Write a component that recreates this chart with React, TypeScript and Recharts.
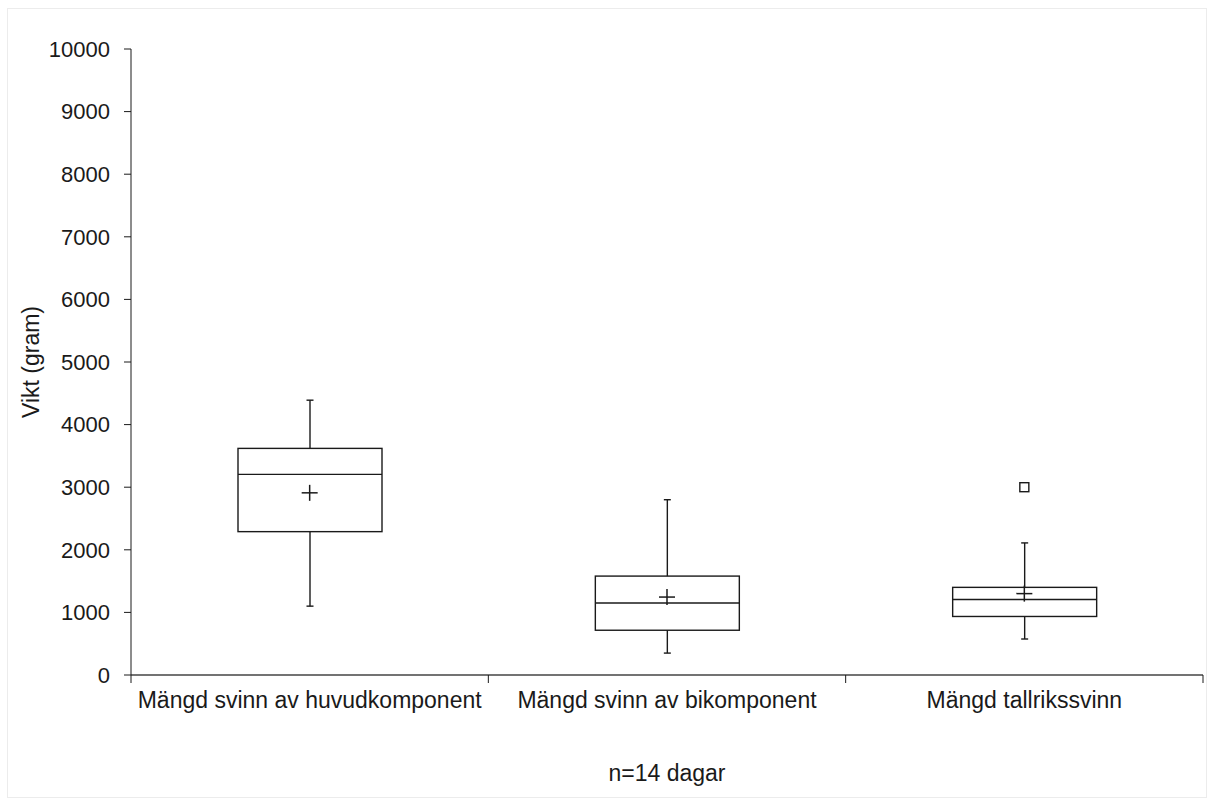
import { Bar, ComposedChart, Scatter, XAxis, YAxis } from "recharts";

const categories = [
  "Mängd svinn av huvudkomponent",
  "Mängd svinn av bikomponent",
  "Mängd tallrikssvinn",
];
const whiskerLow = [1100, 350, 575];
const q1 = [2290, 715, 935];
const median = [3205, 1150, 1205];
const q3 = [3620, 1580, 1400];
const whiskerHigh = [4390, 2800, 2110];
const means = [2910, 1245, 1300];
const outliers: (number | null)[] = [null, null, 3000];
const yTicks = [0, 1000, 2000, 3000, 4000, 5000, 6000, 7000, 8000, 9000, 10000];

const rows = categories.map((name, i) => ({
  name,
  box: [q1[i], q3[i]],
  lo: whiskerLow[i],
  q1: q1[i],
  med: median[i],
  q3: q3[i],
  hi: whiskerHigh[i],
  mean: means[i],
  outlier: outliers[i],
}));

const font = "'Liberation Sans', Arial, sans-serif";
const ink = "#1a1a1a";
const labelMargin = 17;

function BoxShape(props: any) {
  const { x, y, width, height, payload } = props;
  const top = Math.min(y, y + height);
  const h = Math.abs(height);
  const perUnit = h / (payload.q3 - payload.q1);
  const py = (v: number) => top + (payload.q3 - v) * perUnit;
  const cx = x + width / 2;
  const cap = 3.5;
  return (
    <g stroke={ink} strokeWidth={1.4} fill="none">
      <rect x={x} y={top} width={width} height={h} />
      <line x1={x} x2={x + width} y1={py(payload.med)} y2={py(payload.med)} />
      <line x1={cx} x2={cx} y1={top} y2={py(payload.hi)} />
      <line x1={cx - cap} x2={cx + cap} y1={py(payload.hi)} y2={py(payload.hi)} />
      <line x1={cx} x2={cx} y1={top + h} y2={py(payload.lo)} />
      <line x1={cx - cap} x2={cx + cap} y1={py(payload.lo)} y2={py(payload.lo)} />
    </g>
  );
}

function MeanCross(props: any) {
  const { cx, cy } = props;
  return (
    <g stroke={ink} strokeWidth={1.5}>
      <line x1={cx - 8} x2={cx + 8} y1={cy} y2={cy} />
      <line x1={cx} x2={cx} y1={cy - 8} y2={cy + 8} />
    </g>
  );
}

function OutlierSquare(props: any) {
  const { cx, cy, payload } = props;
  if (payload?.outlier == null || !Number.isFinite(cy)) return <g />;
  return <rect x={cx - 4.5} y={cy - 4.5} width={9} height={9} fill="none" stroke={ink} strokeWidth={1.4} />;
}

// category label under the band centre, with tick marks at the band edges
function CategoryTick(props: any) {
  const { x, y, payload, index } = props;
  const half = payload.offset ?? 0;
  const axisY = y - labelMargin;
  return (
    <g>
      {index === 0 && (
        <line x1={x - half} x2={x - half} y1={axisY} y2={axisY + 8} stroke={ink} />
      )}
      <line x1={x + half} x2={x + half} y1={axisY} y2={axisY + 8} stroke={ink} />
      <text x={x} y={y} dy="0.71em" textAnchor="middle" fill={ink} fontSize={23} fontFamily={font}>
        {payload.value}
      </text>
    </g>
  );
}

export default function App() {
  return (
    <div style={{ position: "absolute", left: 0, top: 0, width: 1212, height: 803, background: "#fff" }}>
      <div
        style={{
          position: "absolute",
          left: 7,
          top: 8,
          width: 1198,
          height: 788,
          border: "1px solid #ececec",
        }}
      />
      <ComposedChart
        width={1212}
        height={803}
        data={rows}
        margin={{ top: 49, right: 9, left: 0, bottom: 0 }}
        style={{ position: "absolute", left: 0, top: 0, fontFamily: font }}
      >
        <XAxis
          dataKey="name"
          height={128}
          axisLine={{ stroke: "#444", strokeWidth: 1.6 }}
          tickLine={false}
          tickSize={0}
          tickMargin={labelMargin}
          interval={0}
          tick={<CategoryTick />}
          label={{
            value: "n=14 dagar",
            position: "insideBottom",
            offset: 22,
            style: { fill: ink, fontSize: 23, fontFamily: font },
          }}
        />
        <YAxis
          type="number"
          domain={[0, 10000]}
          ticks={yTicks}
          interval={0}
          width={131}
          tickSize={7}
          tickMargin={14}
          axisLine={{ stroke: ink }}
          tickLine={{ stroke: ink }}
          tick={{ fill: ink, fontSize: 22, fontFamily: font }}
          label={{
            value: "Vikt (gram)",
            angle: -90,
            position: "insideLeft",
            offset: 31,
            style: { textAnchor: "middle", fill: ink, fontSize: 23, fontFamily: font },
          }}
        />
        <Bar dataKey="box" barSize={144} shape={<BoxShape />} isAnimationActive={false} />
        <Scatter dataKey="mean" shape={<MeanCross />} isAnimationActive={false} />
        <Scatter dataKey="outlier" shape={<OutlierSquare />} isAnimationActive={false} />
      </ComposedChart>
    </div>
  );
}
